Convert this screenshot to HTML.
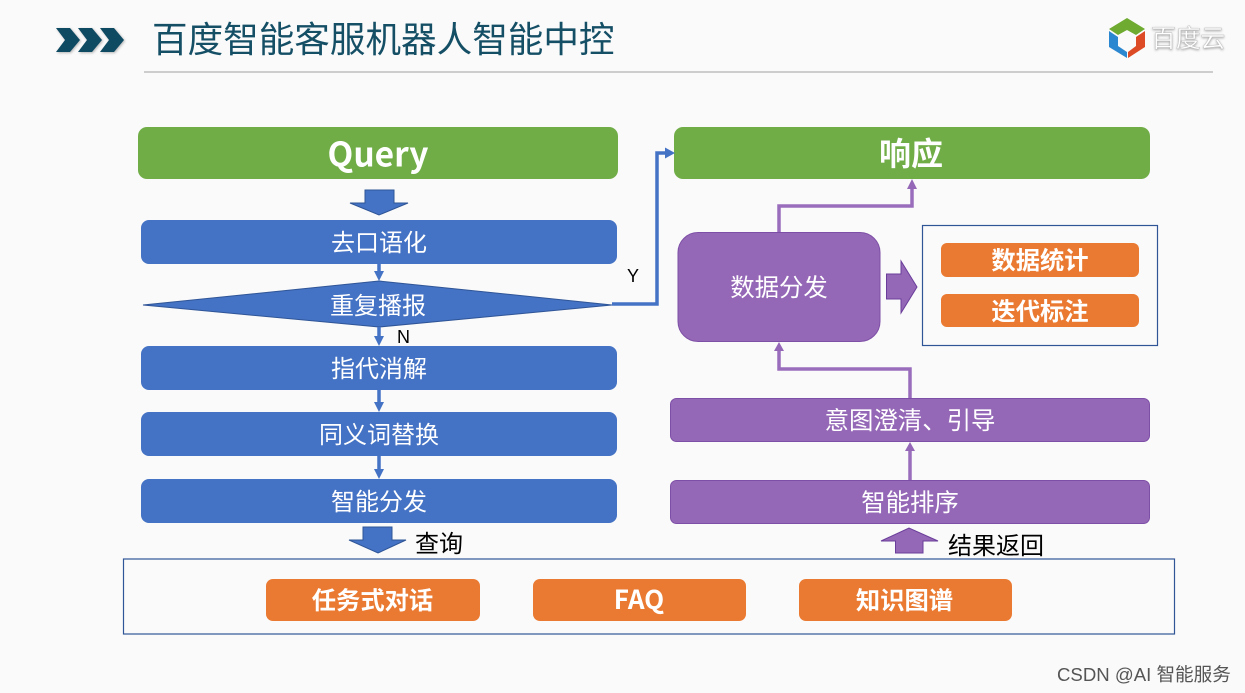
<!DOCTYPE html>
<html><head><meta charset="utf-8">
<style>
html,body{margin:0;padding:0;background:#fafafa;}
svg{display:block;}
text{font-family:"Liberation Sans","Noto Sans CJK SC",sans-serif;}
.w{fill:#fff;font-size:24px;text-anchor:middle;}
.r{fill:#fff;font-size:24.4px;text-anchor:middle;}
.b{fill:#fff;font-size:24.3px;font-weight:700;text-anchor:middle;}
.n{font-family:"Noto Sans CJK SC","Liberation Sans",sans-serif;font-weight:700;fill:#fff;text-anchor:middle;}
</style></head>
<body>
<svg width="1245" height="693" viewBox="0 0 1245 693" xmlns="http://www.w3.org/2000/svg">
<defs><filter id="s" x="-20%" y="-20%" width="140%" height="140%"><feGaussianBlur stdDeviation="1.2"/></filter></defs>
<rect width="1245" height="693" fill="#fafafa"/>
<!-- header chevrons -->
<g fill="#888" opacity=".6" filter="url(#s)" transform="translate(1,1)">
<path d="M56 28H70L80 40 70 52H56L65 40Z"/><path d="M78 28H92L102 40 92 52H78L87 40Z"/><path d="M100 28H114L124 40 114 52H100L109 40Z"/>
</g>
<g fill="#0e4a62">
<path d="M56 28H70L80 40 70 52H56L65 40Z"/><path d="M78 28H92L102 40 92 52H78L87 40Z"/><path d="M100 28H114L124 40 114 52H100L109 40Z"/>
</g>
<text x="152" y="52" font-size="35.600" fill="#154f66">百度智能客服机器人智能中控</text>
<rect x="144" y="71" width="1069" height="2" fill="#cdcdcd"/>
<!-- logo -->
<path d="M1127 18L1145 29 1136 35 1127 30 1118 35 1109 29Z" fill="#6eab30"/>
<path d="M1109 31L1118 37V46L1127 52V58L1109 47Z" fill="#2b87d0"/>
<path d="M1145 31L1136 37V46L1128 52V58L1145 47Z" fill="#dd4b26"/>
<text x="1151" y="48" font-size="25" fill="#777" opacity=".8" filter="url(#s)" letter-spacing="-.3">百度云</text>
<text x="1151" y="47" font-size="25" fill="#fff" stroke="#bbb" stroke-width=".4" letter-spacing="-.3">百度云</text>
<!-- Query -->
<rect x="138" y="127" width="480" height="52" rx="9" fill="#70ad47"/>
<text class="n" x="378" y="166.500" font-size="33.500">Query</text>
<!-- Response -->
<rect x="674" y="127" width="476" height="52" rx="9" fill="#70ad47"/>
<text x="911" y="165" font-size="32" font-weight="700" fill="#fff" text-anchor="middle">响应</text>
<!-- block arrow -->
<path d="M365 190H394V203H408L379 215 350 203H365Z" fill="#4472c4" stroke="#2f5597" stroke-width="1"/>
<!-- left boxes -->
<rect x="141" y="220" width="476" height="44" rx="8" fill="#4472c4"/>
<text class="w" x="379" y="251">去口语化</text>
<path d="M143 305L379 281 612 305 379 327Z" fill="#4472c4" stroke="#2f5597" stroke-width="1"/>
<text class="w" x="378" y="314">重复播报</text>
<rect x="141" y="346" width="476" height="44" rx="8" fill="#4472c4"/>
<text class="w" x="379" y="377">指代消解</text>
<rect x="141" y="412" width="476" height="44" rx="8" fill="#4472c4"/>
<text class="w" x="379" y="443">同义词替换</text>
<rect x="141" y="479" width="476" height="44" rx="8" fill="#4472c4"/>
<text class="w" x="379" y="510">智能分发</text>
<!-- small connectors -->
<g stroke="#4472c4" stroke-width="3.500" fill="none">
<path d="M379 264V273"/><path d="M379 327V338"/><path d="M379 390V404"/><path d="M379 456V471"/>
<path d="M612 304H657V153H667"/>
</g>
<g fill="#4472c4">
<path d="M374 271H384L379 281Z"/><path d="M374 336H384L379 346Z"/><path d="M374 402H384L379 412Z"/><path d="M374 469H384L379 479Z"/>
<path d="M665 147.500L675 153 665 158.500Z"/>
</g>
<text x="627" y="282" font-size="18" fill="#000">Y</text>
<text x="397" y="343" font-size="18" fill="#000">N</text>
<!-- bottom query arrow -->
<path d="M363 527H392V540H406L378 553 349 540H363Z" fill="#4472c4" stroke="#2f5597" stroke-width="1"/>
<text x="415" y="552" font-size="24" fill="#000">查询</text>
<!-- right side -->
<g stroke="#9a6cbc" stroke-width="3.500" fill="none">
<path d="M779 233V206H912V188"/>
<path d="M910 399V369H779V349"/>
<path d="M910 480V450"/>
</g>
<g fill="#9568b7">
<path d="M907 189L912 179 917 189Z"/>
<path d="M774 351L779 342 784 351Z"/>
<path d="M905 451L910 442 915 451Z"/>
</g>
<rect x="678" y="232.500" width="202" height="109" rx="20" fill="#9568b7" stroke="#7e4fa6"/>
<text class="r" x="779" y="296">数据分发</text>
<path d="M886.500 274H901V261L917 287 901 313V299H886.500Z" fill="#9568b7" stroke="#6a3d9a" stroke-width="1"/>
<rect x="922.500" y="225.500" width="235" height="120" fill="#fafafa" stroke="#2f5597" stroke-width="1.200"/>
<rect x="941" y="243" width="198" height="34" rx="6" fill="#ea7a31"/>
<text class="b" x="1040" y="269">数据统计</text>
<rect x="941" y="294" width="198" height="33" rx="6" fill="#ea7a31"/>
<text class="b" x="1040" y="320">迭代标注</text>
<rect x="670.500" y="398.500" width="479" height="43" rx="6" fill="#9568b7" stroke="#7e4fa6"/>
<text class="r" x="910" y="429">意图澄清、引导</text>
<rect x="670.500" y="480.500" width="479" height="43" rx="6" fill="#9568b7" stroke="#7e4fa6"/>
<text class="r" x="910" y="511">智能排序</text>
<path d="M895.500 553V541H881L909 528 938 541H923V553Z" fill="#9568b7" stroke="#6a3d9a" stroke-width="1"/>
<text x="948" y="554" font-size="24" fill="#000">结果返回</text>
<!-- bottom container -->
<rect x="123.500" y="559" width="1051" height="75" fill="#fafafa" stroke="#2f5597" stroke-width="1.200"/>
<rect x="266" y="579" width="214" height="42" rx="7" fill="#ea7a31"/>
<text class="b" x="372.500" y="609">任务式对话</text>
<rect x="533" y="579" width="213" height="42" rx="7" fill="#ea7a31"/>
<text class="n" x="639" y="609" font-size="26">FAQ</text>
<rect x="799" y="579" width="213" height="42" rx="7" fill="#ea7a31"/>
<text class="b" x="904.500" y="609">知识图谱</text>
<text x="1057" y="681" font-size="18.600" fill="#555">CSDN @AI 智能服务</text>
</svg>
</body></html>
